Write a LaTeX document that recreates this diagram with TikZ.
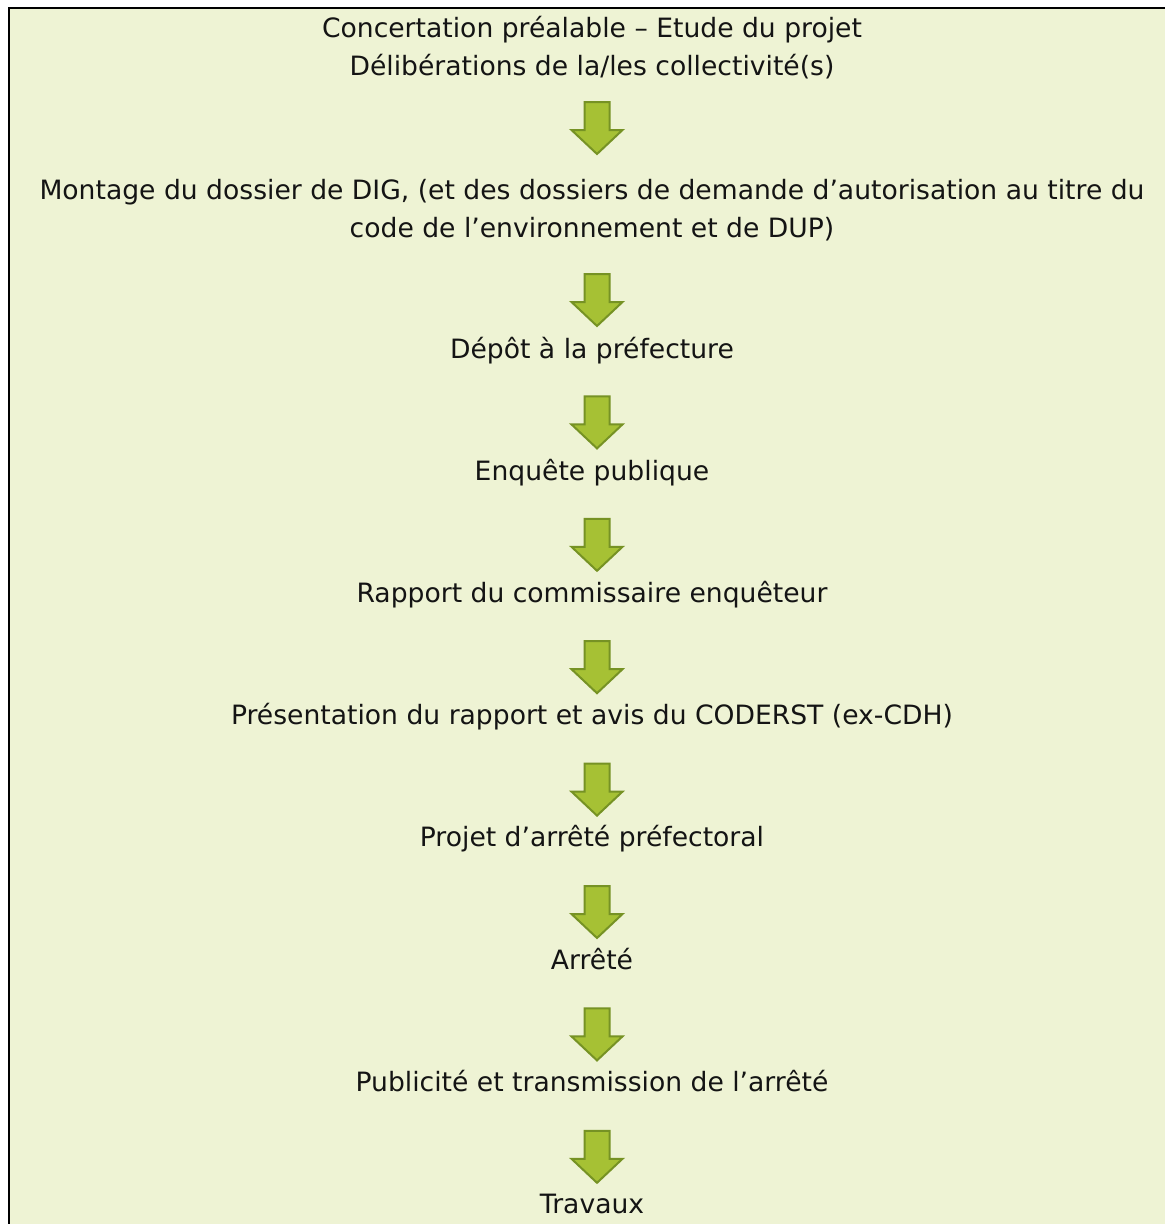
\documentclass[tikz,border=0pt]{standalone}
\usepackage{fontspec}
\setmainfont{DejaVu Sans}
\definecolor{bg}{RGB}{238,243,212}
\definecolor{arrowfill}{RGB}{166,193,52}
\definecolor{arrowline}{RGB}{118,146,36}
\definecolor{txt}{RGB}{20,20,20}
\begin{document}
\begin{tikzpicture}[x=1pt,y=-1pt,
  lbl/.style={font=\fontsize{26.6}{32}\selectfont, text=txt, anchor=base, inner sep=0},
  downarrow/.pic={\filldraw[fill=arrowfill,draw=arrowline,line width=2pt,miter limit=10]
     (-12.5,0) -- (12.5,0) -- (12.5,28) -- (25.5,28) -- (0,52) -- (-25.5,28) -- (-12.5,28) -- cycle;}]
\useasboundingbox (0,0) rectangle (1165,1224);
\fill[bg] (9,8) rectangle (1165,1224);
\draw[line width=2.5pt] (9,1224) -- (9,8) -- (1165,8);

\node[lbl] (t1a) at (592,37) {Concertation préalable – Etude du projet};
\node[lbl] (t1b) at (592,75) {Délibérations de la/les collectivité(s)};
\pic (a1) at (597,102) {downarrow};
\node[lbl] (t2a) at (592,199) {Montage du dossier de DIG, (et des dossiers de demande d’autorisation au titre du};
\node[lbl] (t2b) at (592,237) {code de l’environnement et de DUP)};
\pic (a2) at (597,274) {downarrow};
\node[lbl] (t3) at (592,358) {Dépôt à la préfecture};
\pic (a3) at (597,396.4) {downarrow};
\node[lbl] (t4) at (592,480.2) {Enquête publique};
\pic (a4) at (597,518.8) {downarrow};
\node[lbl] (t5) at (592,602.4) {Rapport du commissaire enquêteur};
\pic (a5) at (597,641.2) {downarrow};
\node[lbl] (t6) at (592,724.6) {Présentation du rapport et avis du CODERST (ex-CDH)};
\pic (a6) at (597,763.6) {downarrow};
\node[lbl] (t7) at (592,846.8) {Projet d’arrêté préfectoral};
\pic (a7) at (597,886) {downarrow};
\node[lbl] (t8) at (592,969) {Arrêté};
\pic (a8) at (597,1008.4) {downarrow};
\node[lbl] (t9) at (592,1091.2) {Publicité et transmission de l’arrêté};
\pic (a9) at (597,1130.8) {downarrow};
\node[lbl] (t10) at (592,1213.4) {Travaux};
\end{tikzpicture}
\end{document}
